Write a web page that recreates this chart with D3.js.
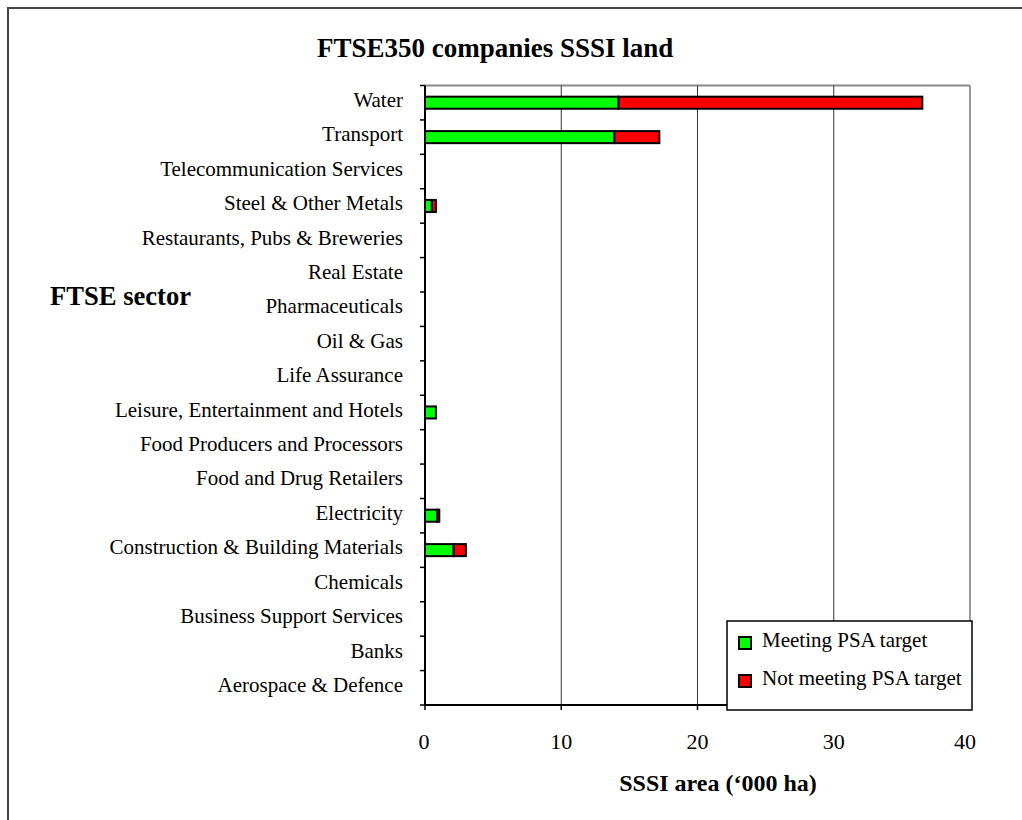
<!DOCTYPE html>
<html><head><meta charset="utf-8">
<script src="https://cdn.jsdelivr.net/npm/d3@7"></script>
<style>body{margin:0;background:#fff;} svg{display:block;}</style>
</head><body>
<svg id="c" width="1022" height="820"></svg>
<script>
const categories = ["Water","Transport","Telecommunication Services","Steel & Other Metals","Restaurants, Pubs & Breweries","Real Estate","Pharmaceuticals","Oil & Gas","Life Assurance","Leisure, Entertainment and Hotels","Food Producers and Processors","Food and Drug Retailers","Electricity","Construction & Building Materials","Chemicals","Business Support Services","Banks","Aerospace & Defence"];
const meeting =    [14.2, 13.9, 0, 0.5, 0, 0, 0, 0, 0, 0.8, 0, 0, 0.9, 2.1, 0, 0, 0, 0];
const notMeeting = [22.3, 3.3,  0, 0.3, 0, 0, 0, 0, 0, 0,   0, 0, 0.15, 0.9, 0, 0, 0, 0];
const xTicks = [0,10,20,30,40];
const seriesNames = ["Meeting PSA target","Not meeting PSA target"];
const colors = ["#00ff00","#ff0000"];

const svg = d3.select("#c");
const F = "'Liberation Serif','Times New Roman',serif";
const L = 425, R = 970, T = 85.5, B = 705;

svg.append("rect").attr("x",8).attr("y",8).attr("width",1040).attr("height",840)
  .attr("fill","none").attr("stroke","#444").attr("stroke-width",2);

const x = d3.scaleLinear().domain([0,40]).range([L,R]);
const y = d3.scaleBand().domain(categories).range([T,B]).paddingInner(0.65).paddingOuter(0.325);
const yb = d3.scaleBand().domain(categories).range([T,B]);

// plot border top/right
svg.append("line").attr("x1",L).attr("x2",R).attr("y1",T).attr("y2",T).attr("stroke","#888").attr("stroke-width",2);
svg.append("line").attr("x1",R).attr("x2",R).attr("y1",T).attr("y2",B).attr("stroke","#999").attr("stroke-width",2);
// gridlines
svg.append("g").selectAll("line").data(xTicks.slice(1,-1)).join("line")
  .attr("x1",d=>x(d)).attr("x2",d=>x(d)).attr("y1",T).attr("y2",B)
  .attr("stroke","#333").attr("stroke-width",1);

// bars
const rows = categories.map((c,i)=>({c, m:meeting[i], n:notMeeting[i]}));
const g = svg.append("g");
rows.forEach(r=>{
  if (r.m>0) g.append("rect").attr("x",x(0)).attr("y",y(r.c)).attr("width",x(r.m)-x(0)).attr("height",y.bandwidth())
    .attr("fill",colors[0]).attr("stroke","#000").attr("stroke-width",2);
  if (r.n>0) g.append("rect").attr("x",x(r.m)).attr("y",y(r.c)).attr("width",x(r.m+r.n)-x(r.m)).attr("height",y.bandwidth())
    .attr("fill",colors[1]).attr("stroke","#000").attr("stroke-width",2);
});

// y axis
const ya = svg.append("g").attr("transform",`translate(${L},0)`);
ya.append("line").attr("x1",0).attr("x2",0).attr("y1",T).attr("y2",B).attr("stroke","#000").attr("stroke-width",2);
ya.selectAll(".tk").data(d3.range(categories.length+1)).join("line")
  .attr("x1",-5).attr("x2",0).attr("y1",i=>T+i*yb.step()).attr("y2",i=>T+i*yb.step())
  .attr("stroke","#000").attr("stroke-width",1.5);
ya.selectAll("text").data(categories).join("text")
  .attr("x",-22).attr("y",d=>yb(d)+yb.bandwidth()/2).attr("dy","0.2em")
  .attr("text-anchor","end").attr("font-family",F).attr("font-size",21).text(d=>d);

// x axis
const xa = svg.append("g").attr("transform",`translate(0,${B})`);
xa.append("line").attr("x1",L).attr("x2",R).attr("stroke","#000").attr("stroke-width",2);
xa.selectAll(".tk").data(xTicks).join("line")
  .attr("x1",d=>x(d)).attr("x2",d=>x(d)).attr("y1",0).attr("y2",5).attr("stroke","#000").attr("stroke-width",1.5);
xa.selectAll("text").data(xTicks).join("text")
  .attr("x",d=>x(d)-(d===40?5:d===0?1:0)).attr("y",44).attr("text-anchor","middle")
  .attr("font-family",F).attr("font-size",22).text(d=>d);

// titles
svg.append("text").attr("x",317).attr("y",57).attr("font-family",F)
  .attr("font-weight","bold").attr("font-size",27).text("FTSE350 companies SSSI land");
svg.append("text").attr("x",50).attr("y",305).attr("font-family",F)
  .attr("font-weight","bold").attr("font-size",26.6).text("FTSE sector");
svg.append("text").attr("x",718).attr("y",791).attr("text-anchor","middle").attr("font-family",F)
  .attr("font-weight","bold").attr("font-size",24).text("SSSI area (‘000 ha)");

// legend
const lg = svg.append("g");
lg.append("rect").attr("x",727).attr("y",621).attr("width",245).attr("height",89)
  .attr("fill","#fff").attr("stroke","#000").attr("stroke-width",1.5);
seriesNames.forEach((s,i)=>{
  const yy = 643 + i*38;
  lg.append("rect").attr("x",739).attr("y",yy-6).attr("width",12).attr("height",12)
    .attr("fill",colors[i]).attr("stroke","#000").attr("stroke-width",2);
  lg.append("text").attr("x",762).attr("y",yy+4).attr("font-family",F)
    .attr("font-size",21).text(s);
});
</script>
</body></html>
